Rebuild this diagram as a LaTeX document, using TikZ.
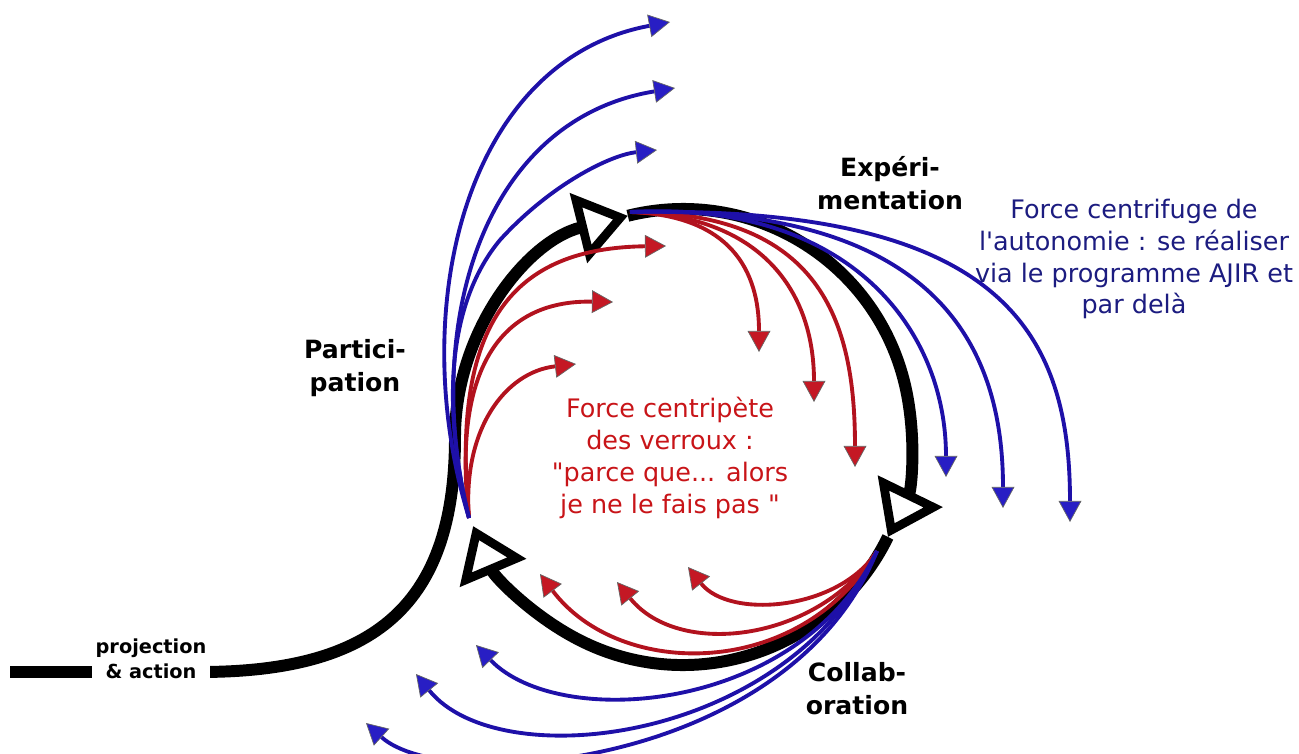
\documentclass[tikz,border=0pt]{standalone}
\usepackage{fontspec}
\setmainfont{DejaVu Sans}
\newfontfamily\dejavu{DejaVu Sans}
\usetikzlibrary{arrows.meta}
\definecolor{rouge}{RGB}{178,18,30}
\definecolor{rougepointe}{RGB}{196,24,36}
\definecolor{bleu}{RGB}{30,16,168}
\definecolor{bleupointe}{RGB}{40,30,196}
\definecolor{bleutexte}{RGB}{28,28,128}
\definecolor{rougetexte}{RGB}{200,20,24}

\begin{document}
\begin{tikzpicture}[x=0.02cm, y=-0.02cm,
    spirale/.style={line width=6.8pt},
    pointe/.style={-{Triangle[length=29pt, width=40pt, line width=5pt, fill=white]}},
    verrou/.style={draw=rouge, line width=2.2pt, -{Triangle[length=12pt, width=13pt, line width=0.4pt, fill=rougepointe, color=black!60]}},
    autonomie/.style={draw=bleu, line width=2.2pt, -{Triangle[length=12pt, width=13pt, line width=0.4pt, fill=bleupointe, color=black!60]}},
    etape/.style={font=\dejavu\fontsize{14.3}{18.8}\selectfont\bfseries, align=center},
    force/.style={font=\dejavu\fontsize{14.5}{18.2}\selectfont, align=center}]
    \useasboundingbox (0,0) rectangle (1299,754);

    % spirale
    \coordinate (centre) at (683,437);
    \coordinate (depart) at (10,672);
    \draw[spirale, pointe] (depart) -- (200,672) .. controls (375,672) and (455,605) .. (455,437)
        arc[start angle=180, end angle=256, radius=228];
    \draw[spirale, pointe] (centre) ++(256:228) arc[start angle=256, end angle=386, radius=228];
    \draw[spirale, pointe] (centre) ++(386:228) arc[start angle=386, end angle=517, radius=228];
    \node[etape, font=\dejavu\fontsize{11}{14.2}\selectfont\bfseries, fill=white, inner xsep=2pt, inner ysep=0pt] (projection) at (151,659) {projection\\\& action};

    % points de depart des forces
    \coordinate (haut) at (630,212);
    \coordinate (gauche) at (469,518);
    \coordinate (droite) at (877,551);

    % force centripete
    \draw[verrou] (gauche) .. controls (462,430) and (505,372) .. (576,364);
    \draw[verrou] (gauche) .. controls (452,370) and (500,300) .. (613,302);
    \draw[verrou] (gauche) .. controls (450,320) and (515,248) .. (666,246);
    \draw[verrou] (haut) .. controls (720,215) and (759,260) .. (759,352);
    \draw[verrou] (haut) .. controls (760,215) and (814,290) .. (814,402);
    \draw[verrou] (haut) .. controls (820,212) and (855,320) .. (855,467);
    \draw[verrou] (droite) .. controls (840,610) and (730,620) .. (688,567);
    \draw[verrou] (droite) .. controls (820,640) and (680,660) .. (617,582);
    \draw[verrou] (droite) .. controls (800,680) and (620,680) .. (540,574);

    % force centrifuge
    \draw[autonomie] (gauche) .. controls (405,310) and (465,60) .. (670,22);
    \draw[autonomie] (gauche) .. controls (422,330) and (480,120) .. (675,88);
    \draw[autonomie] (gauche) .. controls (440,400) and (450,300) .. (500,240) .. controls (550,185) and (610,155) .. (657,150);
    \draw[autonomie] (haut) .. controls (850,200) and (946,330) .. (946,477);
    \draw[autonomie] (haut) .. controls (930,205) and (1003,340) .. (1003,508);
    \draw[autonomie] (haut) .. controls (1000,205) and (1070,330) .. (1070,522);
    \draw[autonomie] (droite) .. controls (800,712) and (560,732) .. (476,645);
    \draw[autonomie] (droite) .. controls (790,742) and (500,778) .. (416,674);
    \draw[autonomie] (droite) .. controls (790,768) and (445,795) .. (366,723);

    % etapes
    \node[etape] (experimentation) at (890,183) {Expéri-\\mentation};
    \node[etape] (participation) at (355,368) {Partici-\\pation};
    \node[etape] (collaboration) at (857,689) {Collab-\\oration};

    % textes
    \node[force, text=rougetexte] (centripete) at (670,458) {Force centripète\\des verroux :\\"parce que... alors\\je ne le fais pas "};
    \node[force, text=bleutexte] (centrifuge) at (1134,259) {Force centrifuge de\\l'autonomie : se réaliser\\via le programme AJIR et\\par delà};
\end{tikzpicture}
\end{document}
